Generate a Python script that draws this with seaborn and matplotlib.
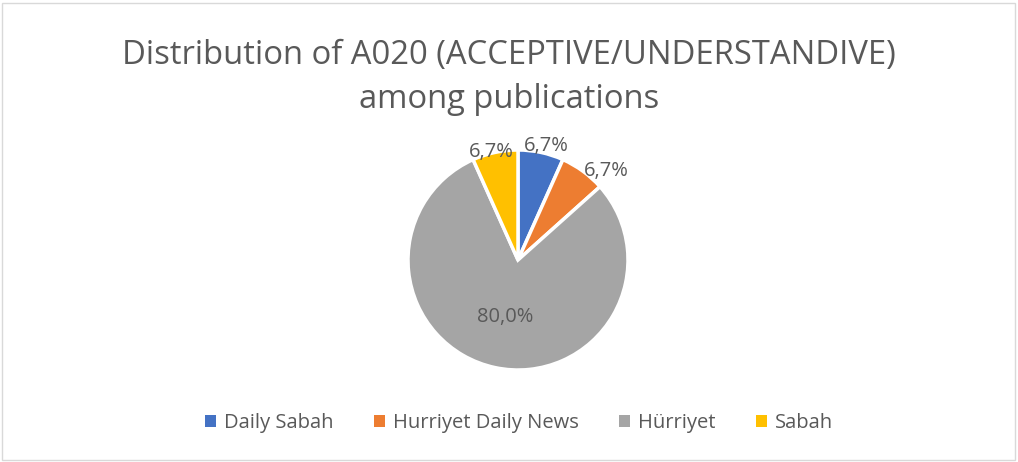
import matplotlib
matplotlib.use("Agg")
import numpy as np
import matplotlib.pyplot as plt
import seaborn as sns
from matplotlib.patches import Patch, Rectangle

# Data
publications = ["Daily Sabah", "Hurriyet Daily News", "Hürriyet", "Sabah"]
shares = [6.7, 6.7, 80.0, 6.7]
colors = ["#4472C4", "#ED7D31", "#A5A5A5", "#FFC000"]
title = "Distribution of A020 (ACCEPTIVE/UNDERSTANDIVE)\namong publications"

sns.set_theme(style="white")
plt.rcParams["font.family"] = ["Open Sans", "DejaVu Sans"]
text_col = "#595959"

W, H = 1018, 462
fig = plt.figure(figsize=(W / 100, H / 100), dpi=100)
ax = fig.add_axes([0, 0, 1, 1])

wedges, texts, autotexts = ax.pie(
    shares, colors=colors, startangle=90, counterclock=False,
    center=(518, 202), radius=110,
    wedgeprops=dict(edgecolor="white", linewidth=2.5),
    autopct="%1.1f%%", pctdistance=1.0,
    textprops=dict(color=text_col, fontsize=14.5),
)
# pie resets the limits, so set them afterwards
ax.set_xlim(0, W)
ax.set_ylim(0, H)
ax.set_aspect("equal")
ax.axis("off")

# label text straight from the data, placed Excel best-fit style
label_dist = [1.07, 1.14, 0.53, 1.01]
label_ang = [76, 45, 257, 104]
for t, v, d, a in zip(autotexts, shares, label_dist, label_ang):
    r = np.deg2rad(a)
    t.set_text(f"{v:.1f}%".replace(".", ","))
    t.set_position((518 + d * 110 * np.cos(r), 202 + d * 110 * np.sin(r)))

fig.text(0.5, 0.832, title, ha="center", va="center", fontsize=23.6,
         color=text_col, linespacing=1.45)

handles = [Patch(facecolor=c, edgecolor="none") for c in colors]
fig.legend(handles, publications, loc="center", bbox_to_anchor=(0.51, 0.085),
           ncol=4, frameon=False, fontsize=14.5, labelcolor=text_col,
           handlelength=0.55, handleheight=0.55, handletextpad=0.4,
           columnspacing=2.0)

fig.patches.append(Rectangle((0.002, 0.004), 0.995, 0.99, transform=fig.transFigure,
                             fill=False, edgecolor="#D9D9D9", linewidth=1))

fig.savefig("out.png", dpi=100)
